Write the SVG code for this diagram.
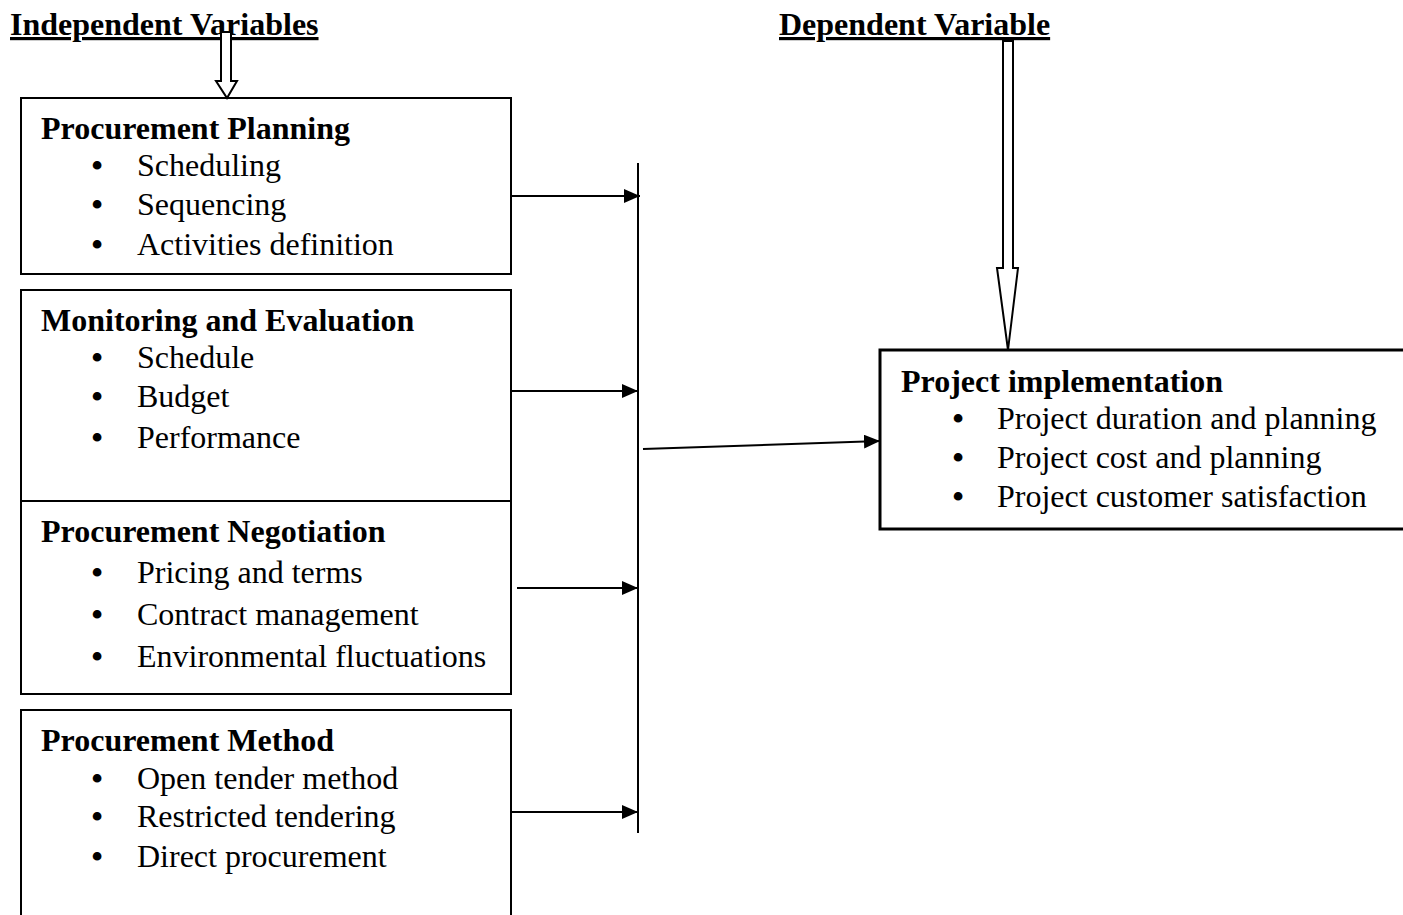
<svg xmlns="http://www.w3.org/2000/svg" width="1403" height="915" viewBox="0 0 1403 915">
<style>
text{font-family:"Liberation Serif","Times New Roman",serif;fill:#000;font-size:32px}
.h{font-weight:bold;text-decoration:underline}
.t{font-weight:bold}
.b{text-anchor:middle;font-weight:bold}
.box{fill:none;stroke:#000;stroke-width:2}
.box3{fill:none;stroke:#000;stroke-width:3}
.ln{stroke:#000;stroke-width:2;fill:none}
.blk{fill:#fff;stroke:#000;stroke-width:2}
</style>
<defs>
<marker id="a" viewBox="0 0 16 14" refX="16" refY="7" markerWidth="16" markerHeight="14" markerUnits="userSpaceOnUse" orient="auto">
<path d="M0,0 L16,7 L0,14 z" fill="#000"/>
</marker>
</defs>
<g id="hdr-independent"><text class="h" x="10" y="35">Independent Variables</text></g>
<g id="hdr-dependent"><text class="h" x="779" y="35">Dependent Variable</text></g>

<g id="node-planning">
<rect class="box" x="21" y="98" width="490" height="176"/>
<text class="t" x="41" y="139">Procurement Planning</text>
<text class="b" x="97" y="176">•</text><text x="137" y="176">Scheduling</text>
<text class="b" x="97" y="215">•</text><text x="137" y="215">Sequencing</text>
<text class="b" x="97" y="255">•</text><text x="137" y="255">Activities definition</text>
</g>
<g id="node-monitoring">
<rect class="box" x="21" y="290" width="490" height="211"/>
<text class="t" x="41" y="331">Monitoring and Evaluation</text>
<text class="b" x="97" y="368">•</text><text x="137" y="368">Schedule</text>
<text class="b" x="97" y="407">•</text><text x="137" y="407">Budget</text>
<text class="b" x="97" y="448">•</text><text x="137" y="448">Performance</text>
</g>
<g id="node-negotiation">
<rect class="box" x="21" y="501" width="490" height="193"/>
<text class="t" x="41" y="542">Procurement Negotiation</text>
<text class="b" x="97" y="583">•</text><text x="137" y="583">Pricing and terms</text>
<text class="b" x="97" y="625">•</text><text x="137" y="625">Contract management</text>
<text class="b" x="97" y="667">•</text><text x="137" y="667">Environmental fluctuations</text>
</g>
<g id="node-method">
<path class="box" d="M21,920 V710 H511 V920"/>
<text class="t" x="41" y="751">Procurement Method</text>
<text class="b" x="97" y="789">•</text><text x="137" y="789">Open tender method</text>
<text class="b" x="97" y="827">•</text><text x="137" y="827">Restricted tendering</text>
<text class="b" x="97" y="867">•</text><text x="137" y="867">Direct procurement</text>
</g>
<g id="node-implementation">
<rect class="box3" x="880" y="350" width="530" height="179"/>
<text class="t" x="901" y="392">Project implementation</text>
<text class="b" x="958" y="429">•</text><text x="997" y="429">Project duration and planning</text>
<text class="b" x="958" y="468">•</text><text x="997" y="468">Project cost and planning</text>
<text class="b" x="958" y="507">•</text><text x="997" y="507">Project customer satisfaction</text>
</g>

<g id="connectors">
<path class="blk" d="M221,32 V81 H216 L227,98 L237,81 H231 V32 z"/>
<path class="blk" d="M1003,41 V268 H997 L1008,350 L1018,268 H1013 V41 z"/>
<line class="ln" x1="638" y1="163" x2="638" y2="833"/>
<line class="ln" x1="511" y1="196" x2="640" y2="196" marker-end="url(#a)"/>
<line class="ln" x1="511" y1="391" x2="638" y2="391" marker-end="url(#a)"/>
<line class="ln" x1="517" y1="588" x2="638" y2="588" marker-end="url(#a)"/>
<line class="ln" x1="511" y1="812" x2="638" y2="812" marker-end="url(#a)"/>
<line class="ln" x1="643" y1="449" x2="880" y2="441" marker-end="url(#a)"/>
</g>
</svg>
